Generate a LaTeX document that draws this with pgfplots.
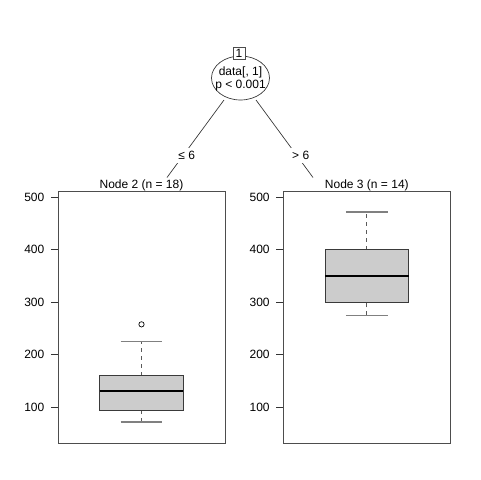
\documentclass[border=0pt]{standalone}
\usepackage{fontspec}
\setmainfont{Liberation Sans}
\usepackage{pgfplots}
\pgfplotsset{compat=1.18}
\definecolor{boxfill}{HTML}{CCCCCC}
\definecolor{frame}{HTML}{4D4D4D}
\definecolor{boxline}{HTML}{3A3A3A}
\definecolor{capline}{HTML}{808080}
\definecolor{whisk}{HTML}{5A5A5A}
\pgfplotsset{
  panel/.style={
    scale only axis,
    width=125.25pt, height=189pt,
    xmin=0, xmax=1, ymin=32, ymax=512,
    xtick=\empty,
    ytick={100,200,300,400,500},
    ytick pos=left,
    tick align=outside,
    major tick length=5.25pt,
    tick style={black!80, line width=0.5pt},
    axis line style={frame, line width=0.6pt},
    /pgf/number format/assume math mode=true,
    tick label style={font=\fontsize{9}{11}\selectfont},
    yticklabel style={xshift=-1.5pt},
    every axis title/.style={at={(0.5,1)}, anchor=base, yshift=1.8pt, font=\fontsize{9}{11}\selectfont},
    clip=false,
  },
  boxp/.style={draw=boxline, fill=boxfill, line width=0.6pt},
  medp/.style={black, line width=1.2pt},
  whp/.style={whisk, dashed, line width=0.5pt},
  capp/.style={capline, line width=0.8pt},
}
\begin{document}
\begin{tikzpicture}[font=\fontsize{9}{11}\selectfont]
\path[use as bounding box] (0,0) rectangle (360pt,360pt);

% Left terminal node: Q1=95, median=131, Q3=160, whiskers 72 / 225, outlier 258
\begin{axis}[panel, at={(43.5pt,27.75pt)}, anchor=south west, title={Node 2 (n = 18)}]
\addplot[whp] coordinates {(0.5,72) (0.5,95)};
\addplot[whp] coordinates {(0.5,160) (0.5,225)};
\addplot[capp] coordinates {(0.375,72) (0.625,72)};
\addplot[capp] coordinates {(0.375,225) (0.625,225)};
\addplot[boxp] coordinates {(0.25,95) (0.75,95) (0.75,160) (0.25,160)} -- cycle;
\addplot[medp] coordinates {(0.25,131) (0.75,131)};
\addplot[only marks, mark=o, mark size=2pt, mark options={black, line width=0.5pt}] coordinates {(0.5,258)};
\end{axis}

% Right terminal node: Q1=300, median=350, Q3=400, whiskers 275 / 472
\begin{axis}[panel, at={(212.5pt,27.75pt)}, anchor=south west, title={Node 3 (n = 14)}]
\addplot[whp] coordinates {(0.5,275) (0.5,300)};
\addplot[whp] coordinates {(0.5,400) (0.5,472)};
\addplot[capp] coordinates {(0.375,275) (0.625,275)};
\addplot[capp] coordinates {(0.375,472) (0.625,472)};
\addplot[boxp] coordinates {(0.25,300) (0.75,300) (0.75,400) (0.25,400)} -- cycle;
\addplot[medp] coordinates {(0.25,350) (0.75,350)};
\end{axis}

% Tree structure (pixel coordinates, origin top-left)
\begin{scope}[x=0.75pt, y=-0.75pt, yshift=360pt]
  \draw[black!80, line width=0.5pt] (224,100) -- (167,177.5);
  \draw[black!80, line width=0.5pt] (256,100) -- (313,177.5);
  \node[fill=white, inner sep=2.5pt, anchor=base] at (186.7,159.5) {≤ 6};
  \node[fill=white, inner sep=2.5pt, anchor=base] at (300.7,159.5) {> 6};
  \draw[black!80, fill=white, line width=0.5pt] (240.5,78) ellipse [x radius=29, y radius=22];
  \node[anchor=base] at (240.5,75.5) {data[, 1]};
  \node[anchor=base] at (240.5,88.5) {p < 0.001};
  \node[draw=black!70, fill=white, line width=0.5pt, minimum width=9pt, minimum height=9pt, inner sep=0.5pt] at (239,53.3) {1};
\end{scope}
\end{tikzpicture}
\end{document}
